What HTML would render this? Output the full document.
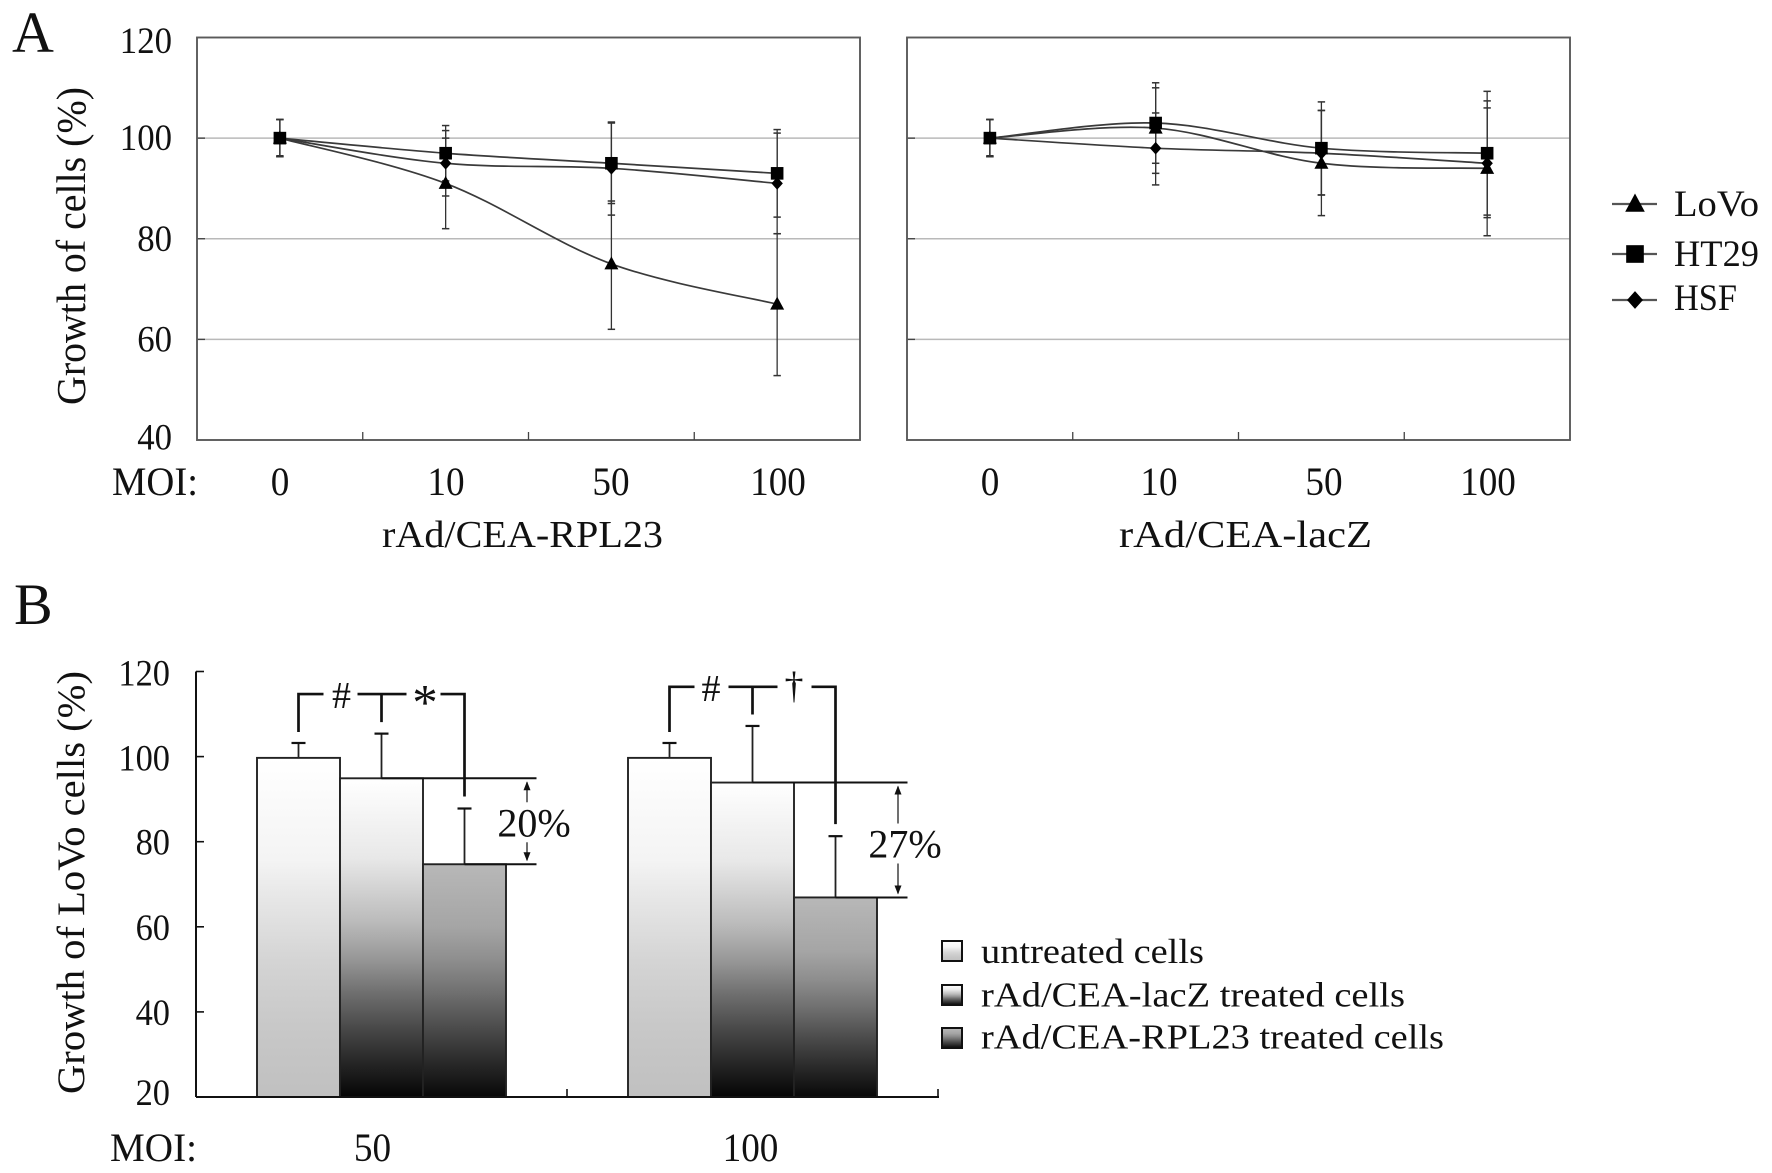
<!DOCTYPE html>
<html lang="en">
<head>
<meta charset="utf-8">
<title>Growth of cells chart</title>
<style>
html,body{margin:0;padding:0;background:#fff;}
svg{display:block;}
text{font-family:"Liberation Serif",serif;fill:#111;}
</style>
</head>
<body>
<svg id="fig" xmlns="http://www.w3.org/2000/svg" width="1772" height="1173" viewBox="0 0 1772 1173">
<defs>
<linearGradient id="g0" x1="0" y1="0" x2="0" y2="1"><stop offset="0" stop-color="#fff"/><stop offset="0.3" stop-color="#f4f4f4"/><stop offset="0.4" stop-color="#e8e8e8"/><stop offset="0.6" stop-color="#d4d4d4"/><stop offset="0.79" stop-color="#c8c8c8"/><stop offset="1" stop-color="#c0c0c0"/></linearGradient>
<linearGradient id="g1" x1="0" y1="0" x2="0" y2="1"><stop offset="0" stop-color="#fff"/><stop offset="0.25" stop-color="#e8e8e8"/><stop offset="0.45" stop-color="#bbb"/><stop offset="0.57" stop-color="#969696"/><stop offset="0.67" stop-color="#707070"/><stop offset="0.78" stop-color="#4a4a4a"/><stop offset="0.88" stop-color="#2a2a2a"/><stop offset="1" stop-color="#050505"/></linearGradient>
<linearGradient id="g2" x1="0" y1="0" x2="0" y2="1"><stop offset="0" stop-color="#b8b8b8"/><stop offset="0.27" stop-color="#a5a5a5"/><stop offset="0.41" stop-color="#8e8e8e"/><stop offset="0.55" stop-color="#707070"/><stop offset="0.7" stop-color="#4c4c4c"/><stop offset="0.84" stop-color="#2c2c2c"/><stop offset="1" stop-color="#080808"/></linearGradient>
</defs>
<text x="12" y="52" font-size="58">A</text>
<text x="14" y="624" font-size="58">B</text>
<text transform="translate(85,405) rotate(-90)" font-size="41" textLength="318" lengthAdjust="spacingAndGlyphs">Growth of cells (%)</text>
<text transform="translate(84,1094) rotate(-90)" font-size="39" textLength="423" lengthAdjust="spacingAndGlyphs">Growth of LoVo cells (%)</text>
<text x="112" y="495" font-size="40" textLength="86" lengthAdjust="spacingAndGlyphs">MOI:</text>
<text x="110" y="1161" font-size="40" textLength="87" lengthAdjust="spacingAndGlyphs">MOI:</text>
<text x="382" y="547" font-size="38" textLength="281" lengthAdjust="spacingAndGlyphs">rAd/CEA-RPL23</text>
<text x="1119" y="547" font-size="38" textLength="253" lengthAdjust="spacingAndGlyphs">rAd/CEA-lacZ</text>
<g id="layer"></g>
</svg>
<script>
// Panel A data
const moiLabels = ['0', '10', '50', '100'];
const yTicksA = [40, 60, 80, 100, 120];
const seriesNames = ['LoVo', 'HSF', 'HT29'];

const rplLoVo = [100, 91, 75, 67];
const rplHSF = [100, 95, 94, 91];
const rplHT29 = [100, 97, 95, 93];
const rplLoVoHigh = [103.7, 100, 87.5, 81];
const rplLoVoLow = [96.3, 82, 62, 52.8];
const rplHSFHigh = [103.7, 101.5, 103, 101];
const rplHSFLow = [96.3, 88.5, 84.7, 81];
const rplHT29High = [103.7, 102.5, 103.2, 101.7];
const rplHT29Low = [96.5, 91.5, 87, 84.3];

const laczLoVo = [100, 102, 95, 94];
const laczHSF = [100, 98, 97, 95];
const laczHT29 = [100, 103, 98, 97];
const laczLoVoHigh = [103.7, 110, 105.5, 107.4];
const laczLoVoLow = [96.3, 93, 84.6, 80.6];
const laczHSFHigh = [103.7, 105, 105.5, 106];
const laczHSFLow = [96.3, 90.7, 88.7, 84.2];
const laczHT29High = [103.7, 111, 107.2, 109.3];
const laczHT29Low = [96.5, 95, 88.7, 84.7];

// Panel B data
const barGroups = ['50', '100'];
const yTicksB = [20, 40, 60, 80, 100, 120];
const untreatedValues = [99.7, 99.7];
const laczValues = [94.9, 93.9];
const rplValues = [74.7, 66.9];
const untreatedHigh = [103.2, 103.2];
const laczHigh = [105.4, 107.2];
const rplHigh = [87.8, 81.3];
const bracketLevels = [114.7, 116.4];
const reductionLabels = ['20%', '27%'];
const legendA = ['LoVo', 'HT29', 'HSF'];
const legendB = ['untreated cells', 'rAd/CEA-lacZ treated cells', 'rAd/CEA-RPL23 treated cells'];

const NS = 'http://www.w3.org/2000/svg';
const layer = document.getElementById('layer');
function mk(tag, attrs, parent) {
  const el = document.createElementNS(NS, tag);
  for (const k in attrs) el.setAttribute(k, attrs[k]);
  (parent || layer).appendChild(el);
  return el;
}

// Axis functions, panel A
const yA = v => 440 - (v - 40) * (440 - 37.5) / 80;
const xA = (left, i) => left + 82.9 + i * 165.75;
// Axis functions, panel B
const yB = v => 1097 - (v - 20) * 4.255;
const xB = g => 381.5 + g * 371;
const xBar = (g, s) => xB(g) + (s - 1) * 83;

function smoothPath(xs, ys) {
  let d = 'M' + xs[0] + ' ' + ys[0];
  for (let i = 0; i < xs.length - 1; i++) {
    const i0 = Math.max(i - 1, 0), i3 = Math.min(i + 2, xs.length - 1);
    const c1x = xs[i] + (xs[i + 1] - xs[i0]) / 6;
    const c1y = ys[i] + (ys[i + 1] - ys[i0]) / 6;
    const c2x = xs[i + 1] - (xs[i3] - xs[i]) / 6;
    const c2y = ys[i + 1] - (ys[i3] - ys[i]) / 6;
    d += ' C' + c1x + ' ' + c1y + ' ' + c2x + ' ' + c2y + ' ' + xs[i + 1] + ' ' + ys[i + 1];
  }
  return d;
}

function marker(kind, cx, cy, parent, k) {
  let el;
  if (kind === 'HT29') {
    el = mk('rect', { x: cx - 6.3 * k, y: cy - 6.3 * k, width: 12.6 * k, height: 12.6 * k, fill: '#000' }, parent);
    
  } else if (kind === 'LoVo') {
    el = mk('polygon', { points: cx + ',' + (cy - 7.5 * k) + ' ' + (cx + 7 * k) + ',' + (cy + 5.5 * k) + ' ' + (cx - 7 * k) + ',' + (cy + 5.5 * k), fill: '#000' }, parent);
    
  } else {
    el = mk('polygon', { points: cx + ',' + (cy - 6.3 * k) + ' ' + (cx + 5.7 * k) + ',' + cy + ' ' + cx + ',' + (cy + 6.3 * k) + ' ' + (cx - 5.7 * k) + ',' + cy, fill: '#000' }, parent);
    
  }
  
}

function linePlot(name, left, values, highs, lows, showLabels, labelX) {
  const right = left + 663;
  const g = mk('g', {});
  
  

  yTicksA.forEach(t => {
    if (t === 40 || t === 120) return;
    const grid = mk('line', { x1: left, x2: right, y1: yA(t), y2: yA(t), stroke: '#b9b9b9', 'stroke-width': 1.5 }, g);
    
    
    const tk = mk('line', { x1: left, x2: left + 8, y1: yA(t), y2: yA(t), stroke: '#444', 'stroke-width': 1.4 }, g);
    
    
  });

  const frame = mk('rect', { x: left, y: yA(120), width: 663, height: yA(40) - yA(120), fill: 'none', stroke: '#5a5a5a', 'stroke-width': 1.9 }, g);
  
  

  [1, 2, 3].forEach(i => {
    const tx = left + i * 165.75;
    const tk = mk('line', { x1: tx, x2: tx, y1: yA(40), y2: yA(40) - 8, stroke: '#444', 'stroke-width': 1.3 }, g);
    
    
  });

  seriesNames.forEach((s, si) => {
    values[si].forEach((v, i) => {
      const cx = xA(left, i);
      const stem = mk('line', { x1: cx, x2: cx, y1: yA(highs[si][i]), y2: yA(lows[si][i]), stroke: '#333', 'stroke-width': 1.3 }, g);
      
      
      [highs[si][i], lows[si][i]].forEach(e => {
        const cap = mk('line', { x1: cx - 3.7, x2: cx + 3.7, y1: yA(e), y2: yA(e), stroke: '#333', 'stroke-width': 1.5 }, g);
        
        
      });
    });
  });

  seriesNames.forEach((s, si) => {
    const xs = values[si].map((v, i) => xA(left, i));
    const ys = values[si].map(v => yA(v));
    const p = mk('path', { d: smoothPath(xs, ys), fill: 'none', stroke: '#3a3a3a', 'stroke-width': 1.7 }, g);
    
    
    values[si].forEach((v, i) => marker(s, xs[i], ys[i], g, 1));
  });

  moiLabels.forEach((lab, i) => {
    const t = mk('text', { x: labelX[i], y: 495, 'font-size': 40, 'text-anchor': 'middle', textLength: lab.length * 18.6, lengthAdjust: 'spacingAndGlyphs' }, g);
    
    
    t.textContent = lab;
  });

  if (showLabels) {
    yTicksA.forEach(t => {
      const lab = mk('text', { x: 172, y: yA(t) + (t === 120 ? 15.5 : t === 40 ? 9.5 : 12), 'font-size': 37, 'text-anchor': 'end', textLength: String(t).length * 17.4, lengthAdjust: 'spacingAndGlyphs' }, g);
      
      
      lab.textContent = String(t);
    });
  }
}

linePlot('plot-rpl23', 197,
  [rplLoVo, rplHSF, rplHT29],
  [rplLoVoHigh, rplHSFHigh, rplHT29High],
  [rplLoVoLow, rplHSFLow, rplHT29Low],
  true, [280, 446, 611, 778]);
linePlot('plot-lacz', 907,
  [laczLoVo, laczHSF, laczHT29],
  [laczLoVoHigh, laczHSFHigh, laczHT29High],
  [laczLoVoLow, laczHSFLow, laczHT29Low],
  false, [990, 1159, 1324, 1488]);

// Legend A
legendA.forEach((s, i) => {
  const cy = [204, 254, 300][i];
  const g = mk('g', {});
  
  
  const l = mk('line', { x1: 1612, x2: 1657, y1: cy, y2: cy, stroke: '#555', 'stroke-width': 2.2 }, g);
  
  
  marker(s, 1635, cy, g, 1.4);
  const t = mk('text', { x: 1674, y: [216, 266, 310][i], 'font-size': 37, textLength: [85, 85, 63][i], lengthAdjust: 'spacingAndGlyphs' }, g);
  
  
  t.textContent = s;
});

// Panel B
const barSeries = [untreatedValues, laczValues, rplValues];
const barHighs = [untreatedHigh, laczHigh, rplHigh];
const barNames = ['untreated', 'lacz', 'rpl23'];
const gB = mk('g', {});



barSeries.forEach((vals, s) => {
  vals.forEach((v, g) => {
    const cx = xBar(g, s);
    const b = mk('rect', { x: cx - 41.5, y: yB(v), width: 83, height: yB(20) - yB(v), fill: 'url(#g' + s + ')', stroke: '#222', 'stroke-width': 1.9 }, gB);
    
    
    const stem = mk('line', { x1: cx, x2: cx, y1: yB(v), y2: yB(barHighs[s][g]), stroke: '#222', 'stroke-width': 1.8 }, gB);
    
    
    const cap = mk('line', { x1: cx - 7, x2: cx + 7, y1: yB(barHighs[s][g]), y2: yB(barHighs[s][g]), stroke: '#111', 'stroke-width': 2.2 }, gB);
    
    
  });
});

// Axes B
const axY = mk('line', { x1: 196, x2: 196, y1: yB(120), y2: yB(20), stroke: '#111', 'stroke-width': 2 }, gB);


const axX = mk('line', { x1: 196, x2: 939, y1: yB(20), y2: yB(20), stroke: '#111', 'stroke-width': 2 }, gB);


yTicksB.forEach((t, i) => {
  const tk = mk('line', { x1: 196, x2: 204, y1: yB(t), y2: yB(t), stroke: '#111', 'stroke-width': 1.6 }, gB);
  
  
  const lab = mk('text', { x: 170, y: yB(t) + [8, 13, 13, 13, 14, 14][i], 'font-size': 37, 'text-anchor': 'end', textLength: String(t).length * 17.2, lengthAdjust: 'spacingAndGlyphs' }, gB);
  
  
  lab.textContent = String(t);
});
barGroups.forEach((lab, g) => {
  const tx = xB(g) + 185.5;
  const tk = mk('line', { x1: tx, x2: tx, y1: yB(20), y2: yB(20) - 8, stroke: '#111', 'stroke-width': 1.6 }, gB);
  
  
  const t = mk('text', { x: xB(g) + (g === 0 ? -9 : -2), y: 1161, 'font-size': 40, 'text-anchor': 'middle', textLength: lab.length * 18.6, lengthAdjust: 'spacingAndGlyphs' }, gB);
  
  
  t.textContent = lab;
});

// Reference lines, arrows, percent labels and significance brackets
barGroups.forEach((lab, g) => {
  const end = xBar(g, 2) + 72;
  const yTop = yB(laczValues[g]);
  const yBot = yB(rplValues[g]);
  const r1 = mk('line', { x1: xBar(g, 1), x2: end, y1: yTop, y2: yTop, stroke: '#111', 'stroke-width': 2 }, gB);
  
  
  const r2 = mk('line', { x1: xBar(g, 2), x2: end, y1: yBot, y2: yBot, stroke: '#111', 'stroke-width': 2 }, gB);
  
  

  const ax = end - 9.5;
  const arrow = mk('line', { x1: ax, x2: ax, y1: yTop + 4, y2: yBot - 4, stroke: '#222', 'stroke-width': 1.3 }, gB);
  
  
  [[yTop + 3, 1], [yBot - 3, -1]].forEach(([ty, dir]) => {
    const head = mk('polygon', { points: ax + ',' + ty + ' ' + (ax + 3.5) + ',' + (ty + dir * 9) + ' ' + (ax - 3.5) + ',' + (ty + dir * 9), fill: '#111' }, gB);
    
    
  });
  const base = (yTop + yBot) / 2 + (g === 0 ? 15 : 17.5);
  const bg = mk('rect', { x: ax - 14, y: base - 34, width: 28, height: 40, fill: '#fff' }, gB);
  
  
  const pct = mk('text', { x: ax + 7, y: base, 'font-size': 40, 'text-anchor': 'middle' }, gB);
  
  
  pct.textContent = reductionLabels[g];

  // Bracket
  const yL = yB(bracketLevels[g]);
  const x0 = xBar(g, 0), x1 = xBar(g, 1), x2 = xBar(g, 2);
  const br = 'M' + x0 + ' ' + (yB(untreatedHigh[g]) - 11) + ' V' + yL + ' H' + (x0 + 25) +
    ' M' + (x1 - 24) + ' ' + yL + ' H' + (x1 + 25) +
    ' M' + x1 + ' ' + yL + ' V' + (yB(laczHigh[g]) - 11.5) +
    ' M' + (x2 - 24) + ' ' + yL + ' H' + x2 + ' V' + (yB(rplHigh[g]) - 12);
  const bracket = mk('path', { d: br, fill: 'none', stroke: '#111', 'stroke-width': 2.7 }, gB);
  
  
  const hash = mk('text', { x: (x0 + x1) / 2 + (g === 0 ? 1.5 : 0), y: yL + 14, 'font-size': 38, 'text-anchor': 'middle' }, gB);
  
  
  hash.textContent = '#';
  const star = mk('text', { x: (x1 + x2) / 2 + (g === 0 ? 2 : 0), y: yL + (g === 0 ? 25.5 : 11), 'font-size': g === 0 ? 51 : 38, 'text-anchor': 'middle' }, gB);
  
  
  star.textContent = g === 0 ? '*' : '†';
});

// Legend B
legendB.forEach((lab, i) => {
  const g = mk('g', {});
  
  
  const sy = [941, 985, 1028][i];
  const sw = mk('rect', { x: 942, y: sy, width: 20, height: 20, fill: 'url(#g' + i + ')', stroke: '#111', 'stroke-width': 2 }, g);
  
  
  const t = mk('text', { x: 981, y: [963, 1006.5, 1048.5][i], 'font-size': 35, textLength: [223, 424, 463][i], lengthAdjust: 'spacingAndGlyphs' }, g);
  
  
  t.textContent = lab;
});
</script>
</body>
</html>
